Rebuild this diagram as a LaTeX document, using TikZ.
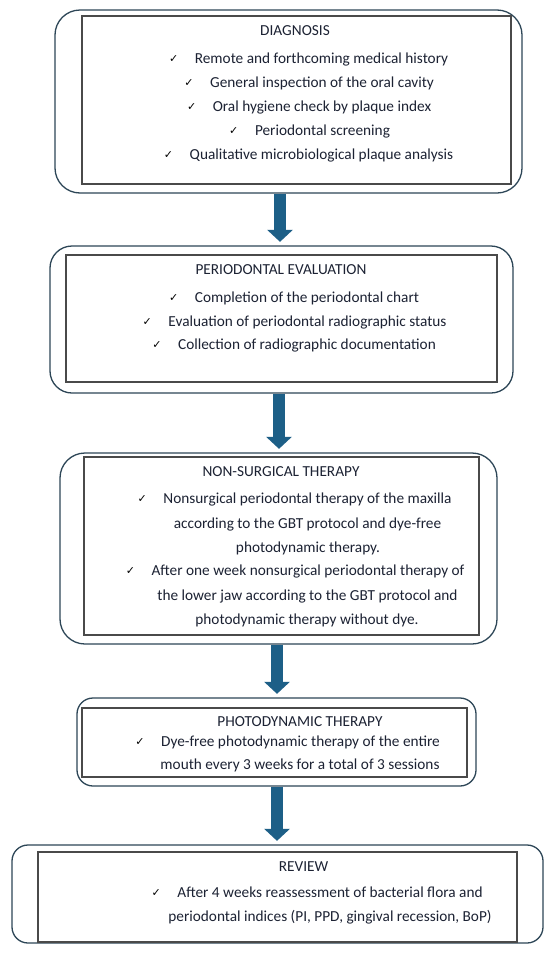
\documentclass[tikz,border=0pt]{standalone}
\usepackage{fontspec}
\setmainfont{Carlito}
\newfontfamily\chkfont{DejaVu Sans}
\usetikzlibrary{arrows.meta}
\definecolor{outerc}{HTML}{2D4657}
\definecolor{innerc}{HTML}{4A4A4A}
\definecolor{arrowc}{HTML}{1D5F87}
\definecolor{txtc}{HTML}{1C2233}
\tikzset{
  outerbox/.style={draw=outerc, line width=1.3pt, fill=white, inner sep=0pt},
  innerbox/.style={draw=innerc, line width=1.4pt, inner sep=0pt},
  txt/.style={inner sep=0pt, text=txtc, font=\fontsize{15.3}{18}\selectfont, text height=10pt, text depth=0pt},
  chk/.style={inner sep=0pt, text=black, font=\chkfont\fontsize{11}{12}\selectfont, text height=9pt, text depth=0pt},
  flowarrow/.style={draw=arrowc, line width=12pt, -{Triangle[width=25pt,length=12pt]}, shorten >=3.5pt}
}
\newcommand{\chkmark}[2]{\node[chk] (#1) at ([xshift=-21pt]#2.west) {✓};}
\begin{document}
\begin{tikzpicture}[x=1pt,y=-1pt]
\useasboundingbox (0,0) rectangle (550,956);
\fill[white] (0,0) rectangle (550,956);

% Box 1
\node[outerbox, rounded corners=25pt, minimum width=467pt, minimum height=183pt] (o1) at (288.5,101.5) {};
\node[innerbox, minimum width=429pt, minimum height=168pt] (i1) at (296.5,100) {};
\node[txt] (t1) at (295,30) {DIAGNOSIS};
\node[txt] (l11) at (321.5,58) {Remote and forthcoming medical history};
\node[txt] (l12) at (322,82) {General inspection of the oral cavity};
\node[txt] (l13) at (322,106) {Oral hygiene check by plaque index};
\node[txt] (l14) at (322.5,130) {Periodontal screening};
\node[txt] (l15) at (321.5,154) {Qualitative microbiological plaque analysis};
\chkmark{c11}{l11}\chkmark{c12}{l12}\chkmark{c13}{l13}\chkmark{c14}{l14}\chkmark{c15}{l15}

% Box 2
\node[outerbox, rounded corners=22pt, minimum width=463pt, minimum height=147pt] (o2) at (281.5,319.5) {};
\node[innerbox, minimum width=431pt, minimum height=127pt] (i2) at (281.5,318.5) {};
\node[txt] (t2) at (281,269) {PERIODONTAL EVALUATION};
\node[txt] (l21) at (307,297) {Completion of the periodontal chart};
\node[txt] (l22) at (307.5,321) {Evaluation of periodontal radiographic status};
\node[txt] (l23) at (307,344) {Collection of radiographic documentation};
\chkmark{c21}{l21}\chkmark{c22}{l22}\chkmark{c23}{l23}

% Box 3
\node[outerbox, rounded corners=25pt, minimum width=437pt, minimum height=191pt] (o3) at (278.5,548.5) {};
\node[innerbox, minimum width=395pt, minimum height=178pt] (i3) at (281.5,546) {};
\node[txt] (t3) at (281,471) {NON-SURGICAL THERAPY};
\node[txt] (l31) at (307.5,498) {Nonsurgical periodontal therapy of the maxilla};
\node[txt] (l32) at (307.5,523) {according to the GBT protocol and dye-free};
\node[txt] (l33) at (308,547) {photodynamic therapy.};
\node[txt] (l34) at (308,570) {After one week nonsurgical periodontal therapy of};
\node[txt] (l35) at (307.5,595) {the lower jaw according to the GBT protocol and};
\node[txt] (l36) at (307,619) {photodynamic therapy without dye.};
\chkmark{c31}{l31}\chkmark{c34}{l34}

% Box 4
\node[outerbox, rounded corners=16pt, minimum width=399pt, minimum height=88pt] (o4) at (276.5,742) {};
\node[innerbox, minimum width=385pt, minimum height=69pt] (i4) at (274.5,742.5) {};
\node[txt] (t4) at (300,721) {PHOTODYNAMIC THERAPY};
\node[txt] (l41) at (300.5,741) {Dye-free photodynamic therapy of the entire};
\node[txt] (l42) at (300,764) {mouth every 3 weeks for a total of 3 sessions};
\chkmark{c41}{l41}

% Box 5
\node[outerbox, rounded corners=16pt, minimum width=531pt, minimum height=98pt] (o5) at (277.5,894) {};
\node[innerbox, minimum width=479pt, minimum height=90pt] (i5) at (277.5,897) {};
\node[txt] (t5) at (303.5,866) {REVIEW};
\node[txt] (l51) at (330,892) {After 4 weeks reassessment of bacterial flora and};
\node[txt] (l52) at (330,916) {periodontal indices (PI, PPD, gingival recession, BoP)};
\chkmark{c51}{l51}

% Arrows
\coordinate (a1) at (280,0);
\coordinate (a2) at (279,0);
\coordinate (a3) at (277,0);
\coordinate (a4) at (277,0);
\draw[flowarrow] (o1.south -| a1) -- (o2.north -| a1);
\draw[flowarrow] (o2.south -| a2) -- (o3.north -| a2);
\draw[flowarrow] (o3.south -| a3) -- (o4.north -| a3);
\draw[flowarrow] (o4.south -| a4) -- (o5.north -| a4);
\end{tikzpicture}
\end{document}
